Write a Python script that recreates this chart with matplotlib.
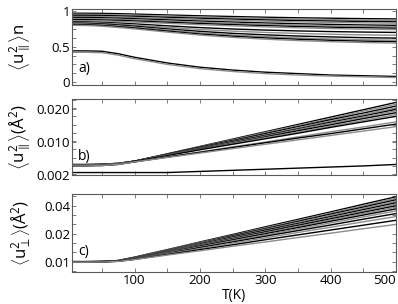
import matplotlib
matplotlib.use('Agg')
import matplotlib.pyplot as plt
from matplotlib.ticker import MultipleLocator

plt.rcParams['font.family'] = ['Open Sans', 'DejaVu Sans']
plt.rcParams['mathtext.fontset'] = 'custom'
plt.rcParams['mathtext.rm'] = 'Open Sans'
plt.rcParams['mathtext.it'] = 'Open Sans:italic'
plt.rcParams['font.size'] = 9

# temperature grid (K)
T = [5, 25, 50, 75, 100, 150, 200, 250, 300, 350, 400, 450, 500]

# panel a) normalised parallel msd, one row per site
a_curves = [
    [0.970, 0.970, 0.968, 0.964, 0.958, 0.946, 0.934, 0.924, 0.914, 0.906, 0.900, 0.894, 0.890],
    [0.955, 0.955, 0.952, 0.948, 0.942, 0.930, 0.917, 0.906, 0.896, 0.887, 0.880, 0.874, 0.870],
    [0.940, 0.940, 0.937, 0.933, 0.927, 0.913, 0.900, 0.888, 0.877, 0.868, 0.861, 0.855, 0.850],
    [0.925, 0.925, 0.922, 0.917, 0.911, 0.896, 0.882, 0.870, 0.858, 0.849, 0.841, 0.835, 0.830],
    [0.910, 0.910, 0.907, 0.901, 0.893, 0.877, 0.860, 0.846, 0.833, 0.822, 0.813, 0.805, 0.800],
    [0.895, 0.895, 0.892, 0.886, 0.878, 0.860, 0.843, 0.828, 0.815, 0.803, 0.794, 0.786, 0.780],
    [0.880, 0.880, 0.876, 0.870, 0.862, 0.844, 0.826, 0.810, 0.796, 0.784, 0.774, 0.766, 0.760],
    [0.865, 0.865, 0.861, 0.855, 0.846, 0.828, 0.809, 0.793, 0.778, 0.765, 0.755, 0.746, 0.740],
    [0.850, 0.848, 0.842, 0.832, 0.820, 0.793, 0.768, 0.748, 0.733, 0.721, 0.712, 0.705, 0.700],
    [0.840, 0.838, 0.831, 0.818, 0.804, 0.772, 0.741, 0.718, 0.700, 0.685, 0.674, 0.665, 0.660],
    [0.830, 0.828, 0.820, 0.805, 0.788, 0.750, 0.715, 0.687, 0.666, 0.649, 0.637, 0.626, 0.620],
    [0.820, 0.818, 0.808, 0.792, 0.774, 0.733, 0.694, 0.664, 0.641, 0.622, 0.608, 0.597, 0.590],
    [0.810, 0.808, 0.798, 0.781, 0.762, 0.719, 0.678, 0.647, 0.623, 0.604, 0.589, 0.577, 0.570],
    [0.800, 0.798, 0.788, 0.770, 0.750, 0.705, 0.663, 0.630, 0.605, 0.585, 0.570, 0.558, 0.550],
    [0.440, 0.440, 0.435, 0.400, 0.350, 0.270, 0.210, 0.170, 0.140, 0.120, 0.100, 0.090, 0.080],
    [0.420, 0.420, 0.415, 0.380, 0.330, 0.250, 0.190, 0.150, 0.120, 0.100, 0.085, 0.075, 0.065],
]

# panel b) parallel msd
b_curves = [
    [0.0049, 0.0049, 0.0050, 0.0052, 0.0058, 0.0078, 0.0098, 0.0118, 0.0138, 0.0158, 0.0178, 0.0198, 0.0218],
    [0.0049, 0.0049, 0.0050, 0.0052, 0.0058, 0.0077, 0.0097, 0.0116, 0.0136, 0.0155, 0.0174, 0.0194, 0.0213],
    [0.0048, 0.0048, 0.0049, 0.0052, 0.0058, 0.0077, 0.0096, 0.0114, 0.0133, 0.0152, 0.0171, 0.0189, 0.0208],
    [0.0048, 0.0048, 0.0049, 0.0052, 0.0058, 0.0076, 0.0094, 0.0112, 0.0130, 0.0149, 0.0167, 0.0185, 0.0203],
    [0.0048, 0.0048, 0.0049, 0.0051, 0.0058, 0.0076, 0.0093, 0.0111, 0.0128, 0.0146, 0.0164, 0.0181, 0.0199],
    [0.0047, 0.0047, 0.0048, 0.0051, 0.0058, 0.0075, 0.0092, 0.0109, 0.0126, 0.0144, 0.0161, 0.0178, 0.0195],
    [0.0047, 0.0047, 0.0048, 0.0051, 0.0058, 0.0074, 0.0091, 0.0107, 0.0124, 0.0141, 0.0157, 0.0174, 0.0190],
    [0.0047, 0.0047, 0.0048, 0.0051, 0.0058, 0.0074, 0.0090, 0.0106, 0.0122, 0.0137, 0.0153, 0.0169, 0.0185],
    [0.0046, 0.0046, 0.0047, 0.0050, 0.0058, 0.0073, 0.0089, 0.0104, 0.0119, 0.0134, 0.0150, 0.0165, 0.0180],
    [0.0046, 0.0046, 0.0047, 0.0050, 0.0056, 0.0070, 0.0083, 0.0097, 0.0110, 0.0124, 0.0138, 0.0151, 0.0165],
    [0.0045, 0.0045, 0.0046, 0.0049, 0.0056, 0.0069, 0.0082, 0.0095, 0.0108, 0.0121, 0.0133, 0.0146, 0.0159],
    [0.0045, 0.0045, 0.0046, 0.0049, 0.0056, 0.0068, 0.0080, 0.0092, 0.0104, 0.0116, 0.0128, 0.0140, 0.0152],
    [0.0027, 0.0027, 0.0027, 0.0027, 0.0027, 0.0027, 0.0030, 0.0033, 0.0036, 0.0039, 0.0042, 0.0045, 0.0049],
]

# panel c) perpendicular msd
c_curves = [
    [0.0101, 0.0101, 0.0102, 0.0107, 0.0125, 0.0165, 0.0206, 0.0246, 0.0287, 0.0327, 0.0367, 0.0408, 0.0448],
    [0.0101, 0.0101, 0.0102, 0.0107, 0.0124, 0.0164, 0.0203, 0.0242, 0.0282, 0.0321, 0.0361, 0.0400, 0.0440],
    [0.0101, 0.0101, 0.0102, 0.0106, 0.0123, 0.0162, 0.0200, 0.0239, 0.0277, 0.0316, 0.0355, 0.0393, 0.0432],
    [0.0100, 0.0100, 0.0101, 0.0106, 0.0122, 0.0160, 0.0198, 0.0235, 0.0273, 0.0311, 0.0349, 0.0386, 0.0424],
    [0.0100, 0.0100, 0.0101, 0.0106, 0.0121, 0.0158, 0.0195, 0.0232, 0.0269, 0.0305, 0.0342, 0.0379, 0.0416],
    [0.0100, 0.0100, 0.0101, 0.0105, 0.0120, 0.0156, 0.0192, 0.0228, 0.0264, 0.0300, 0.0336, 0.0372, 0.0408],
    [0.0100, 0.0100, 0.0101, 0.0105, 0.0119, 0.0154, 0.0189, 0.0224, 0.0260, 0.0295, 0.0330, 0.0365, 0.0400],
    [0.0099, 0.0099, 0.0100, 0.0105, 0.0118, 0.0152, 0.0187, 0.0221, 0.0255, 0.0289, 0.0324, 0.0358, 0.0392],
    [0.0099, 0.0099, 0.0100, 0.0104, 0.0117, 0.0150, 0.0184, 0.0217, 0.0250, 0.0283, 0.0317, 0.0350, 0.0383],
    [0.0099, 0.0099, 0.0100, 0.0104, 0.0116, 0.0148, 0.0180, 0.0212, 0.0244, 0.0276, 0.0308, 0.0340, 0.0372],
    [0.0099, 0.0099, 0.0100, 0.0104, 0.0115, 0.0145, 0.0176, 0.0206, 0.0237, 0.0267, 0.0297, 0.0328, 0.0358],
    [0.0098, 0.0098, 0.0099, 0.0103, 0.0114, 0.0143, 0.0171, 0.0200, 0.0228, 0.0257, 0.0285, 0.0314, 0.0342],
    [0.0098, 0.0098, 0.0099, 0.0103, 0.0113, 0.0139, 0.0165, 0.0191, 0.0218, 0.0244, 0.0270, 0.0296, 0.0322],
    [0.0098, 0.0098, 0.0099, 0.0102, 0.0112, 0.0136, 0.0159, 0.0183, 0.0206, 0.0230, 0.0253, 0.0277, 0.0300],
]

x_ticks = [100, 200, 300, 400, 500]
a_ticks, a_labels = [0, 0.5, 1], ['0', '0.5', '1']
b_ticks, b_labels = [0.002, 0.011, 0.020], ['0.002', '0.010', '0.020']
c_ticks, c_labels = [0.01, 0.025, 0.04], ['0.01', '0.02', '0.04']

line_cols = ['black', '0.55']

fig = plt.figure(figsize=(3.98, 3.04), dpi=100)
ax_a = fig.add_axes([0.182, 0.720, 0.813, 0.250])
ax_b = fig.add_axes([0.182, 0.424, 0.813, 0.250])
ax_c = fig.add_axes([0.182, 0.105, 0.813, 0.257])

panels = [
    (ax_a, a_curves, (-0.042, 1.028), a_ticks, a_labels, 0.125, 'a)', 0.22,
     r'$\left\langle \mathrm{u}_{\parallel}^{2}\right\rangle\mathrm{n}$'),
    (ax_b, b_curves, (0.002, 0.0227), b_ticks, b_labels, 0.00225, 'b)', 0.24,
     r'$\left\langle \mathrm{u}_{\parallel}^{2}\right\rangle$(Å$^2$)'),
    (ax_c, c_curves, (0.0045, 0.0463), c_ticks, c_labels, 0.005, 'c)', 0.26,
     r'$\left\langle \mathrm{u}_{\perp}^{2}\right\rangle$(Å$^2$)'),
]

for ax, curves, ylim, yt, yl, ymin, tag, tag_y, ylab in panels:
    for i, ys in enumerate(curves):
        ax.plot(T, ys, color=line_cols[i % 2], lw=1.0)
    ax.set_xlim(5, 500)
    ax.set_ylim(*ylim)
    ax.set_yticks(yt)
    ax.set_yticklabels(yl)
    ax.yaxis.set_minor_locator(MultipleLocator(ymin))
    ax.set_xticks(x_ticks)
    ax.xaxis.set_minor_locator(MultipleLocator(50))
    ax.tick_params(which='both', direction='in', top=True, right=True,
                   length=3, width=0.6, color='0.4', pad=1.5, labelsize=9.5)
    for sp in ax.spines.values():
        sp.set_color('0.35')
        sp.set_linewidth(0.8)
    ax.text(0.017, tag_y, tag, transform=ax.transAxes, va='center', ha='left',
            fontsize=10)
    ax.set_ylabel(ylab, fontsize=12)
    ax.yaxis.set_label_coords(-0.12, 0.5)
    if ax is not ax_c:
        ax.set_xticklabels([])

# keep the last T label inside the figure
ax_c.get_xticklabels()[-1].set_horizontalalignment('right')

ax_c.set_xlabel('T(K)', fontsize=10)
ax_c.xaxis.set_label_coords(0.5, -0.2)

fig.savefig('out.png', dpi=100)
